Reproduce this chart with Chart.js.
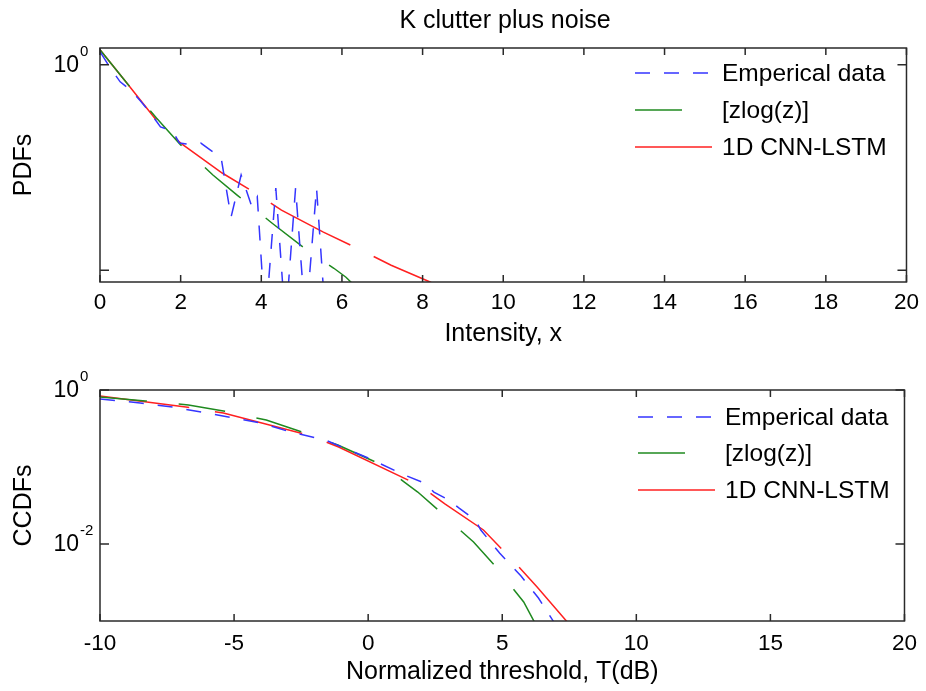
<!DOCTYPE html>
<html>
<head>
<meta charset="utf-8">
<script src="https://cdn.jsdelivr.net/npm/chart.js@4.4.1/dist/chart.umd.min.js"></script>
<style>
  body { margin: 0; background: #fff; }
  canvas { position: absolute; left: 0; }
  #pdfChart { top: 0; }
  #ccdfChart { top: 350px; }
</style>
</head>
<body>
<canvas id="pdfChart" width="926" height="350"></canvas>
<canvas id="ccdfChart" width="926" height="341"></canvas>
<script>
// ---- PDFs (top panel), intensity x ----
const empPdfX  = [0, 0.25, 0.5, 0.75, 1.0, 1.25, 1.5, 1.8, 1.97, 2.3, 2.5, 2.8, 3.0, 3.25, 3.5, 3.77, 3.9, 4.1, 4.36, 4.6, 4.85, 5.1, 5.37, 5.6, 6.0];
const empPdfY  = [1.339, 0.935, 0.682, 0.570, 0.446, 0.340, 0.248, 0.227, 0.173, 0.166, 0.173, 0.1416, 0.1266, 0.0329, 0.0845, 0.0412, 0.0516, 0.003, 0.0631, 0.003, 0.0631, 0.003, 0.0631, 0.003, 0.003];
const zlogPdfX = [0, 0.7, 1.4, 2.0, 2.8, 3.4, 3.77, 4.27, 5.17, 5.8, 6.1, 6.5];
const zlogPdfY = [1.40, 0.638, 0.304, 0.166, 0.0845, 0.0539, 0.0412, 0.0287, 0.01532, 0.01046, 0.00855, 0.006];
const cnnPdfX  = [0, 0.66, 1.43, 2.0, 3.03, 3.86, 4.5, 5.54, 6.53, 7.22, 8.2, 8.6];
const cnnPdfY  = [1.40, 0.667, 0.278, 0.173, 0.0884, 0.0564, 0.0385, 0.0235, 0.01532, 0.01119, 0.00764, 0.0062];

// ---- CCDFs (bottom panel), normalized threshold T(dB) ----
const empCcdfX  = [-10, -8.5, -7.3, -6, -5, -4, -2.9, -1.6, 0, 1.35, 2.1, 2.45, 3.0, 3.38, 4.0, 4.2, 4.9, 5.7, 6.35, 6.9, 7.1];
const empCcdfY  = [0.764, 0.678, 0.601, 0.502, 0.433, 0.373, 0.285, 0.224, 0.131, 0.0787, 0.062, 0.0473, 0.0373, 0.0294, 0.0205, 0.0152, 0.00764, 0.00384, 0.00199, 0.001, 0.0007];
const zlogCcdfX = [-10, -8.3, -6.7, -5.4, -3.8, -2.24, -1.13, 0.35, 1.35, 1.85, 2.7, 3.3, 3.93, 4.7, 5.05, 5.8, 6.22, 6.4];
const zlogCcdfY = [0.811, 0.720, 0.639, 0.534, 0.408, 0.268, 0.193, 0.113, 0.0638, 0.0473, 0.026, 0.0166, 0.0106, 0.00534, 0.00372, 0.00177, 0.00094, 0.0007];
const cnnCcdfX  = [-10, -6.8, -5.4, -2.24, -1.1, 1.95, 2.86, 4.3, 5.45, 6.3, 7.44, 7.7];
const cnnCcdfY  = [0.836, 0.601, 0.502, 0.260, 0.182, 0.0567, 0.0331, 0.0152, 0.00584, 0.00277, 0.000957, 0.0007];

const seriesNames = ['Emperical data', '[zlog(z)]', '1D CNN-LSTM'];
const pdfYTicks  = [1, 0.01];
const ccdfYTicks = [1, 0.01];
const pdfYLabels  = [[1, '0']];
const ccdfYLabels = [[1, '0'], [0.01, '-2']];

const FONT = 'Liberation Sans, Arial, Helvetica, sans-serif';

function pts(xs, ys) {
    return xs.map((x, i) => ({x: x, y: ys[i]}));
}

function makeSets(ex, ey, zx, zy, cx, cy) {
    return [
        {label: seriesNames[0], data: pts(ex, ey), borderColor: '#3535ff', borderDash: [15, 14], borderWidth: 1.5},
        {label: seriesNames[1], data: pts(zx, zy), borderColor: '#1f8a1f', borderDash: [47, 32], borderWidth: 1.5},
        {label: seriesNames[2], data: pts(cx, cy), borderColor: '#ff2020', borderDash: [90, 26], borderWidth: 1.5}
    ];
}

// matlab style box, inside ticks, 10^n labels and legend
const frame = {
    id: 'frame',
    afterDraw(chart, args, opts) {
        const ctx = chart.ctx;
        const a = chart.chartArea;
        const x = chart.scales.x, y = chart.scales.y;
        ctx.save();
        ctx.strokeStyle = '#2a2a2a';
        ctx.lineWidth = 1.5;
        ctx.setLineDash([]);
        ctx.strokeRect(a.left, a.top, a.right - a.left, a.bottom - a.top);
        ctx.beginPath();
        x.ticks.forEach(t => {
            const px = x.getPixelForValue(t.value);
            ctx.moveTo(px, a.bottom); ctx.lineTo(px, a.bottom - 7);
            ctx.moveTo(px, a.top); ctx.lineTo(px, a.top + 7);
        });
        opts.yTicks.forEach(v => {
            const py = y.getPixelForValue(v);
            ctx.moveTo(a.left, py); ctx.lineTo(a.left + 9, py);
            ctx.moveTo(a.right, py); ctx.lineTo(a.right - 9, py);
        });
        ctx.stroke();

        ctx.fillStyle = '#000';
        ctx.textBaseline = 'middle';
        opts.yLabels.forEach(l => {
            const py = y.getPixelForValue(l[0]);
            ctx.font = '23px ' + FONT;
            ctx.textAlign = 'right';
            ctx.fillText('10', 79, py + 1);
            ctx.font = '15px ' + FONT;
            ctx.textAlign = 'left';
            ctx.fillText(l[1], 80, py - 13);
        });

        if (opts.title) {
            ctx.font = '25px ' + FONT;
            ctx.textAlign = 'center';
            ctx.textBaseline = 'alphabetic';
            ctx.fillText(opts.title, 505, 28);
        }

        // legend
        ctx.textBaseline = 'middle';
        ctx.textAlign = 'left';
        ctx.font = '24.5px ' + FONT;
        chart.data.datasets.forEach((ds, i) => {
            const ly = opts.legendY[i];
            ctx.strokeStyle = ds.borderColor;
            ctx.lineWidth = 1.5;
            ctx.setLineDash(ds.borderDash);
            ctx.beginPath();
            ctx.moveTo(opts.legendX, ly);
            ctx.lineTo(opts.legendX + 77, ly);
            ctx.stroke();
            ctx.fillText(ds.label, opts.legendX + 87, ly + 1);
        });
        ctx.restore();
    }
};

function makeChart(id, cfg) {
    const ctx = document.getElementById(id).getContext('2d');
    return new Chart(ctx, {
        type: 'line',
        data: {datasets: cfg.datasets},
        plugins: [frame],
        options: {
            responsive: false,
            animation: false,
            devicePixelRatio: 1,
            layout: {padding: {left: 0, right: 14, top: cfg.top, bottom: 0}},
            elements: {point: {radius: 0}, line: {tension: 0}},
            plugins: {
                legend: {display: false},
                tooltip: {enabled: false},
                frame: {yTicks: cfg.yTicks, yLabels: cfg.yLabels, legendX: cfg.legendX, legendY: cfg.legendY, title: cfg.title}
            },
            scales: {
                x: {
                    type: 'linear', min: cfg.xMin, max: cfg.xMax,
                    grid: {display: false, drawTicks: false},
                    border: {display: false},
                    ticks: {stepSize: cfg.xStep, color: '#000', font: {size: 22.5, family: FONT}, padding: cfg.tickPad, maxRotation: 0},
                    title: {display: true, text: cfg.xTitle, color: '#000', font: {size: 25, family: FONT}, padding: {top: 0, bottom: cfg.xTitlePad}},
                    afterFit(s) { s.height = cfg.xHeight; }
                },
                y: {
                    type: 'logarithmic', min: cfg.yMin, max: cfg.yMax,
                    grid: {display: false, drawTicks: false},
                    border: {display: false},
                    ticks: {display: false},
                    title: {display: true, text: cfg.yTitle, color: '#000', font: {size: 25, family: FONT}, padding: {top: 9, bottom: 0}},
                    afterFit(s) { s.width = 100; }
                }
            }
        }
    });
}

makeChart('pdfChart', {
    datasets: makeSets(empPdfX, empPdfY, zlogPdfX, zlogPdfY, cnnPdfX, cnnPdfY),
    top: 48, xHeight: 68, tickPad: 7, xTitlePad: 1,
    xMin: 0, xMax: 20, xStep: 2, yMin: 0.00769, yMax: 1.455,
    xTitle: 'Intensity, x', yTitle: 'PDFs', title: 'K clutter plus noise',
    yTicks: pdfYTicks, yLabels: pdfYLabels,
    legendX: 635, legendY: [73, 110, 147]
});

makeChart('ccdfChart', {
    datasets: makeSets(empCcdfX, empCcdfY, zlogCcdfX, zlogCcdfY, cnnCcdfX, cnnCcdfY),
    top: 40, xHeight: 70, tickPad: 9, xTitlePad: 4,
    xMin: -10, xMax: 20, xStep: 5, yMin: 0.001, yMax: 1,
    xTitle: 'Normalized threshold, T(dB)', yTitle: 'CCDFs', title: null,
    yTicks: ccdfYTicks, yLabels: ccdfYLabels,
    legendX: 638, legendY: [67, 103, 140]
});
</script>
</body>
</html>
